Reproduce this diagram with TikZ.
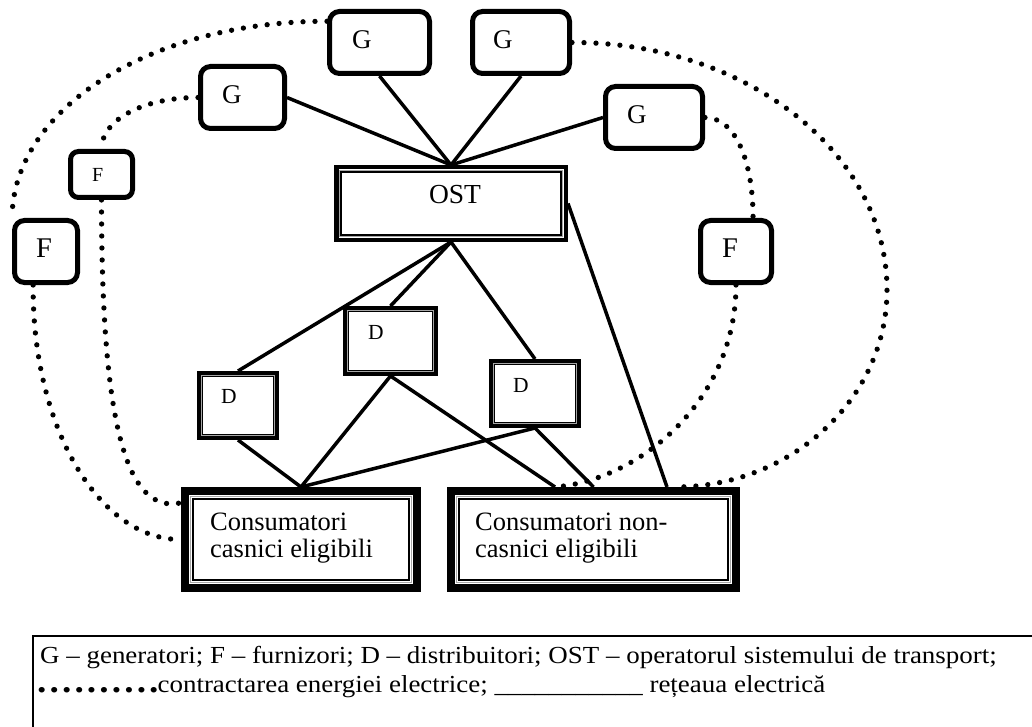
\documentclass[tikz,border=0pt]{standalone}
\usepackage{fontspec}
\setmainfont{Liberation Serif}
\newfontfamily\legfont[FakeStretch=1.1]{Liberation Serif}
\newcommand\fs[1]{\fontsize{#1}{#1}\selectfont}
\newcommand\ldot{{\fs{34}\bfseries.}\kern3.1pt}
\begin{document}
\begin{tikzpicture}[x=1pt,y=-1pt,
  gbox/.style={draw,line width=5pt,rounded corners=10pt,inner sep=0pt},
  dbox/.style={draw,line width=4.5pt,inner sep=0pt},
  cbox/.style={draw,line width=8pt,inner sep=0pt},
  net/.style={line width=3.5pt},
  contract/.style={line width=5.3pt,dash pattern=on 0pt off 12pt,line cap=round},
  lbl/.style={anchor=base west,inner sep=0pt},
  inner/.style={line width=1.2pt},
  gap/.style={line width=0.8pt,black!35},
]
\clip (0,0) rectangle (1032,727);
\useasboundingbox (0,0) rectangle (1032,727);

% generators and suppliers
\node[gbox,minimum width=100pt,minimum height=62pt] (g1) at (379.5,42.5) {};
\node[gbox,minimum width=97pt,minimum height=62pt] (g2) at (521,42.5) {};
\node[gbox,minimum width=84pt,minimum height=62pt] (g3) at (242.5,97.5) {};
\node[gbox,minimum width=97pt,minimum height=62pt] (g4) at (654,117.5) {};
\node[gbox,rounded corners=8pt,minimum width=62pt,minimum height=46pt] (f1) at (101.5,174.5) {};
\node[gbox,minimum width=63pt,minimum height=62pt] (f2) at (46,251.5) {};
\node[gbox,minimum width=71pt,minimum height=62pt] (f3) at (736,251.5) {};

\node[lbl,font=\fs{27}] (tg1) at (352,49) {G};
\node[lbl,font=\fs{27}] (tg2) at (493,49) {G};
\node[lbl,font=\fs{27}] (tg3) at (222,104) {G};
\node[lbl,font=\fs{27}] (tg4) at (627,124) {G};
\node[lbl,font=\fs{20}] (tf1) at (92,182) {F};
\node[lbl,font=\fs{28.5}] (tf2) at (36,257) {F};
\node[lbl,font=\fs{28.5}] (tf3) at (722,257) {F};

% OST and distributors
\node[dbox,minimum width=229.5pt,minimum height=72.5pt] (ost) at (451,203.5) {};
\node[dbox,minimum width=77.5pt,minimum height=64.5pt] (d1) at (238,405.5) {};
\node[dbox,minimum width=90.5pt,minimum height=65.5pt] (d2) at (390.5,341) {};
\node[dbox,minimum width=87.5pt,minimum height=64.5pt] (d3) at (535,393.5) {};
\draw[gap] ([shift={(5.2,5.2)}]ost.north west) rectangle ([shift={(-5.2,-5.2)}]ost.south east);
\draw[inner] ([shift={(7,7)}]ost.north west) rectangle ([shift={(-7,-7)}]ost.south east);
\foreach \n in {d1,d2,d3}{
  \draw[gap] ([shift={(4.2,4.2)}]\n.north west) rectangle ([shift={(-4.2,-4.2)}]\n.south east);
  \draw[inner] ([shift={(5.8,5.8)}]\n.north west) rectangle ([shift={(-5.8,-5.8)}]\n.south east);
}
\node[anchor=base,inner sep=0pt,font=\fs{27.5}] (tost) at (455,204) {OST};
\node[lbl,font=\fs{21.5}] (td1) at (221,403) {D};
\node[lbl,font=\fs{21.5}] (td2) at (368,339) {D};
\node[lbl,font=\fs{21.5}] (td3) at (513,392) {D};

% consumers
\node[cbox,minimum width=232pt,minimum height=97pt] (c1) at (301,539.5) {};
\node[cbox,minimum width=285pt,minimum height=97pt] (c2) at (593.5,539.5) {};
\foreach \n in {c1,c2}{
  \draw[gap] ([shift={(9.5,9.5)}]\n.north west) rectangle ([shift={(-9.5,-9.5)}]\n.south east);
  \draw[inner] ([shift={(12,12)}]\n.north west) rectangle ([shift={(-12,-12)}]\n.south east);
}
\node[lbl,font=\fs{26.5}] (tc1a) at (210,530) {Consumatori};
\node[lbl,font=\fs{26.5}] (tc1b) at (210,557) {casnici eligibili};
\node[lbl,font=\fs{26.5}] (tc2a) at (475,530) {Consumatori non-};
\node[lbl,font=\fs{26.5}] (tc2b) at (475,557) {casnici eligibili};

% electrical network
\draw[net] (g1.south) -- (ost.north);
\draw[net] (g2.south) -- (ost.north);
\draw[net] (g3.east) -- (ost.north);
\draw[net] (g4.west) -- (ost.north);
\draw[net] (ost.south) -- (d1.north);
\draw[net] (ost.south) -- (d2.north);
\draw[net] (ost.south) -- (d3.north);
\draw[net] (ost.east) -- ([xshift=73.5pt]c2.north);
\draw[net] (d1.south) -- (c1.north);
\draw[net] (d2.south) -- (c1.north);
\draw[net] (d2.south) -- ([xshift=-38.5pt]c2.north);
\draw[net] (d3.south) -- (c1.north);
\draw[net] (d3.south) -- (c2.north);

% contracts
\draw[contract] (g1.158) .. controls (154,21) and (13,107) .. (f2.north west);
\draw[contract] (f2.249) .. controls (32,427) and (99,540) .. (c1.west);
\draw[contract] (g3.west) .. controls (143,97.5) and (101.5,120) .. (f1.north);
\draw[contract] (f1.south) .. controls (101.5,420) and (125,515) .. (c1.163);
\draw[contract] (g4.east) .. controls (735,117.5) and (753,160) .. (f3.63);
\draw[contract] (f3.south) .. controls (736,400) and (640,480) .. ([xshift=-38.5pt]c2.north);
\draw[contract] (g2.east) .. controls (745,42) and (887,152) .. (887,290)
  .. controls (887,398) and (792,487) .. ([xshift=81.5pt]c2.north);

% legend
\node[draw,line width=1.5pt,anchor=north west,inner sep=0pt,minimum width=1050pt,minimum height=120pt] (legend) at (32,635) {};
\node[lbl,font=\legfont\fs{24.5}] (leg1) at (40,663) {G – generatori; F – furnizori; D – distribuitori; OST – operatorul sistemului de transport;};
\node[lbl,font=\legfont\fs{24.5}] (leg2) at (37,692) {\ldot\ldot\ldot\ldot\ldot\ldot\ldot\ldot\ldot{\fs{34}\bfseries.}\kern-1pt contractarea energiei electrice; \_\_\_\_\_\_\_\_\_\_\_ rețeaua electrică};
\end{tikzpicture}
\end{document}
